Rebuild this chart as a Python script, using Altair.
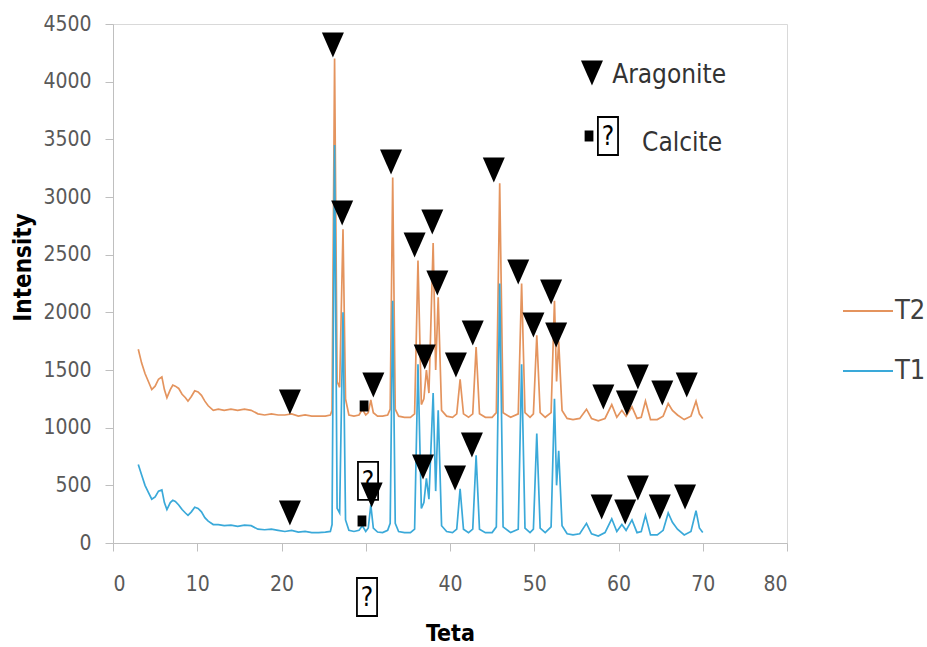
import altair as alt
import pandas as pd

FONT = "Liberation Sans Narrow, DejaVu Sans Condensed, Liberation Sans, sans-serif"
ORANGE = "#E4945E"
BLUE = "#3AA9D9"

# ---- diffraction patterns ----
# low-angle background
teta_low = [3.0, 3.4, 3.8, 4.2, 4.6, 5.0, 5.4, 5.8, 6.1, 6.4, 6.8, 7.1, 7.4, 7.8, 8.2,
            8.6, 8.9, 9.3, 9.7, 10.1, 10.5, 10.9, 11.3, 11.9, 12.5, 13.2, 14.0, 14.8,
            15.6, 16.4, 17.2, 18.0, 18.8, 19.6, 20.4, 21.2, 22.0, 22.8, 23.6, 24.4, 25.2]
t2_low = [1680, 1560, 1470, 1400, 1330, 1360, 1420, 1440, 1330, 1260, 1330, 1370, 1360, 1340, 1290,
          1260, 1230, 1270, 1320, 1310, 1280, 1230, 1190, 1150, 1160, 1150, 1160, 1150,
          1160, 1150, 1120, 1110, 1120, 1110, 1110, 1120, 1100, 1110, 1100, 1100, 1100]
t1_low = [680, 590, 500, 440, 380, 400, 450, 460, 350, 290, 350, 370, 360, 330, 290,
          260, 240, 270, 310, 300, 270, 220, 190, 160, 160, 150, 155, 145,
          155, 150, 120, 115, 120, 110, 100, 110, 95, 100, 90, 90, 95]

# main reflections
teta_mid = [25.8, 26.0, 26.3, 26.6, 26.9, 27.3, 27.6, 28.0, 28.6, 29.2, 29.6, 30.0, 30.3, 30.6,
            30.9, 31.4, 32.0, 32.6, 32.9, 33.2, 33.5, 33.9, 34.6, 35.3, 35.8, 36.2, 36.6, 36.9,
            37.2, 37.5, 38.0, 38.3, 38.6, 39.0, 39.6, 40.3, 40.8, 41.2, 41.6, 42.2, 42.7, 43.1,
            43.5, 44.2, 45.0, 45.5, 45.9, 46.3, 47.2, 48.1, 48.5, 48.9, 49.5, 49.9, 50.3, 50.7,
            51.3, 52.0, 52.4, 52.65, 52.9, 53.3]
t2_mid = [1110, 1150, 4200, 1400, 1350, 2720, 1250, 1110, 1100, 1110, 1160, 1110, 1130, 1240,
          1130, 1100, 1100, 1110, 1160, 3170, 1160, 1100, 1090, 1090, 1120, 2450, 1200, 1250,
          1500, 1300, 2600, 1500, 2130, 1150, 1100, 1090, 1120, 1420, 1120, 1090, 1120, 1700,
          1120, 1090, 1090, 1130, 3120, 1130, 1090, 1120, 2250, 1130, 1090, 1120, 1800, 1130,
          1090, 1130, 2100, 1400, 1750, 1150]
t1_mid = [100, 160, 3450, 300, 260, 2000, 200, 110, 100, 110, 150, 100, 130, 330,
          130, 95, 90, 110, 170, 2100, 170, 100, 90, 90, 120, 1550, 300, 350,
          560, 380, 1300, 450, 1150, 150, 100, 90, 120, 470, 120, 90, 120, 760,
          120, 90, 90, 140, 2250, 140, 90, 120, 1550, 130, 90, 120, 950, 130,
          90, 140, 1250, 500, 800, 150]

# high-angle tail
teta_high = [53.9, 54.6, 55.4, 56.2, 56.8, 57.6, 58.4, 59.2, 59.8, 60.4, 60.9, 61.6, 62.2, 62.7,
             63.2, 63.8, 64.6, 65.3, 65.9, 66.4, 67.0, 67.8, 68.6, 69.2, 69.6, 70.0]
t2_high = [1080, 1070, 1080, 1160, 1080, 1060, 1080, 1200, 1090, 1150, 1100, 1180, 1080, 1090,
           1230, 1070, 1070, 1100, 1210, 1150, 1110, 1070, 1100, 1230, 1120, 1080]
t1_high = [80, 70, 80, 170, 80, 60, 90, 210, 100, 160, 110, 200, 90, 100,
           240, 70, 70, 110, 260, 180, 120, 70, 100, 280, 130, 90]

# ---- phase markers ----
arag_teta = [21.0, 26.1, 27.2, 30.9, 33.0, 35.8, 37.9, 38.5, 37.0, 40.7, 42.7, 45.2, 48.1,
             49.9, 52.0, 52.6, 58.2, 61.0, 62.3, 65.2, 68.1,
             21.0, 30.7, 36.8, 40.6, 42.6, 58.0, 60.8, 62.3, 64.9, 67.9, 56.85]
arag_int = [1223, 4318, 2861, 1370, 3304, 2584, 2783, 2254, 1613, 1543, 1821, 3234, 2350,
            1890, 2176, 1803, 1266, 1214, 1439, 1301, 1370,
            260, 416, 659, 564, 850, 312, 269, 477, 312, 399, 4075]
calc_teta = [29.8, 29.55, 56.5]
calc_int = [1188, 191, 3529]
qbox_teta = [30.27, 30.15, 58.75]
qbox_int = [538, -468, 3529]
key_labels = ["Aragonite", "Calcite"]
key_teta = [59.25, 62.8]
key_int = [4058, 3468]

teta = teta_low + teta_mid + teta_high
t2 = t2_low + t2_mid + t2_high
t1 = t1_low + t1_mid + t1_high

rows = []
for tt, a, b in zip(teta, t2, t1):
    rows.append({"teta": tt, "intensity": a, "series": "T2"})
    rows.append({"teta": tt, "intensity": b, "series": "T1"})
lines_df = pd.DataFrame(rows)
arag_df = pd.DataFrame({"teta": arag_teta, "intensity": arag_int})
calc_df = pd.DataFrame({"teta": calc_teta, "intensity": calc_int})
qbox_df = pd.DataFrame({"teta": qbox_teta, "intensity": qbox_int, "q": ["?"] * 3})
key_df = pd.DataFrame({"teta": key_teta, "intensity": key_int, "label": key_labels})

x_enc = alt.X("teta:Q", title="Teta",
              scale=alt.Scale(domain=[0, 80], nice=False, zero=False),
              axis=alt.Axis(values=list(range(0, 81, 10)), grid=False, format="d",
                            labelExpr="datum.value == 30 ? '' : datum.label",
                            labelFont=FONT, labelFontSize=21, labelColor="#595959",
                            labelPadding=22, tickSize=8, tickColor="#BFBFBF",
                            domainColor="#BFBFBF",
                            titleFont=FONT, titleFontSize=23, titleFontWeight="bold",
                            titleColor="#000000", titleY=90, titleBaseline="middle"))
y_enc = alt.Y("intensity:Q", title="Intensity",
              scale=alt.Scale(domain=[0, 4500], nice=False),
              axis=alt.Axis(values=list(range(0, 4501, 500)), grid=False, format="d",
                            labelFont=FONT, labelFontSize=21, labelColor="#595959",
                            labelPadding=14, tickSize=8, tickColor="#BFBFBF",
                            domainColor="#BFBFBF",
                            titleFont=FONT, titleFontSize=24, titleFontWeight="bold",
                            titleColor="#000000", titleX=-90, titleY=243,
                            titleAlign="center", titleBaseline="middle", titleAngle=270))

lines = alt.Chart(lines_df).mark_line(strokeWidth=1.7).encode(
    x=x_enc, y=y_enc,
    color=alt.Color("series:N",
                    scale=alt.Scale(domain=["T2", "T1"], range=[ORANGE, BLUE]),
                    legend=alt.Legend(title=None, orient="none", legendX=729, legendY=261,
                                      symbolType="stroke", symbolSize=2500,
                                      symbolStrokeWidth=1.8, labelFont=FONT,
                                      labelFontSize=27, labelColor="#404040",
                                      labelOffset=1, rowPadding=21, padding=0)),
)

TRI = "M-0.88,-1L0.88,-1L0,1Z"
SQR = "M-0.8,-1L0.8,-1L0.8,1L-0.8,1Z"
BOX = "M-0.53,-1L0.53,-1L0.53,1L-0.53,1Z"

arag = alt.Chart(arag_df).mark_point(shape=TRI, size=625, filled=True, color="black",
                                     opacity=1).encode(x=x_enc, y=y_enc)
calc = alt.Chart(calc_df).mark_point(shape=SQR, size=121, filled=True, color="black",
                                     opacity=1).encode(x=x_enc, y=y_enc)
qbox = alt.Chart(qbox_df).mark_point(shape=BOX, size=1444, filled=True, fill="white",
                                     stroke="black", strokeWidth=1.8,
                                     opacity=1).encode(x=x_enc, y=y_enc)
qtxt = alt.Chart(qbox_df).mark_text(font=FONT, fontSize=26, color="black",
                                    align="center", baseline="middle", dy=1).encode(
    x=x_enc, y=y_enc, text="q:N")
keys = alt.Chart(key_df).mark_text(font=FONT, fontSize=26, color="#333333",
                                   align="left", baseline="middle").encode(
    x=x_enc, y=y_enc, text="label:N")

chart = alt.layer(lines, qbox, qtxt, arag, calc, keys).properties(
    width=674, height=519,
    padding={"left": 113, "top": 24, "right": 140, "bottom": 104},
    autosize=alt.AutoSizeParams(type="none"),
).configure_view(stroke="#D9D9D9")

chart.save("out.html", embed_options={"renderer": "svg", "actions": False})
